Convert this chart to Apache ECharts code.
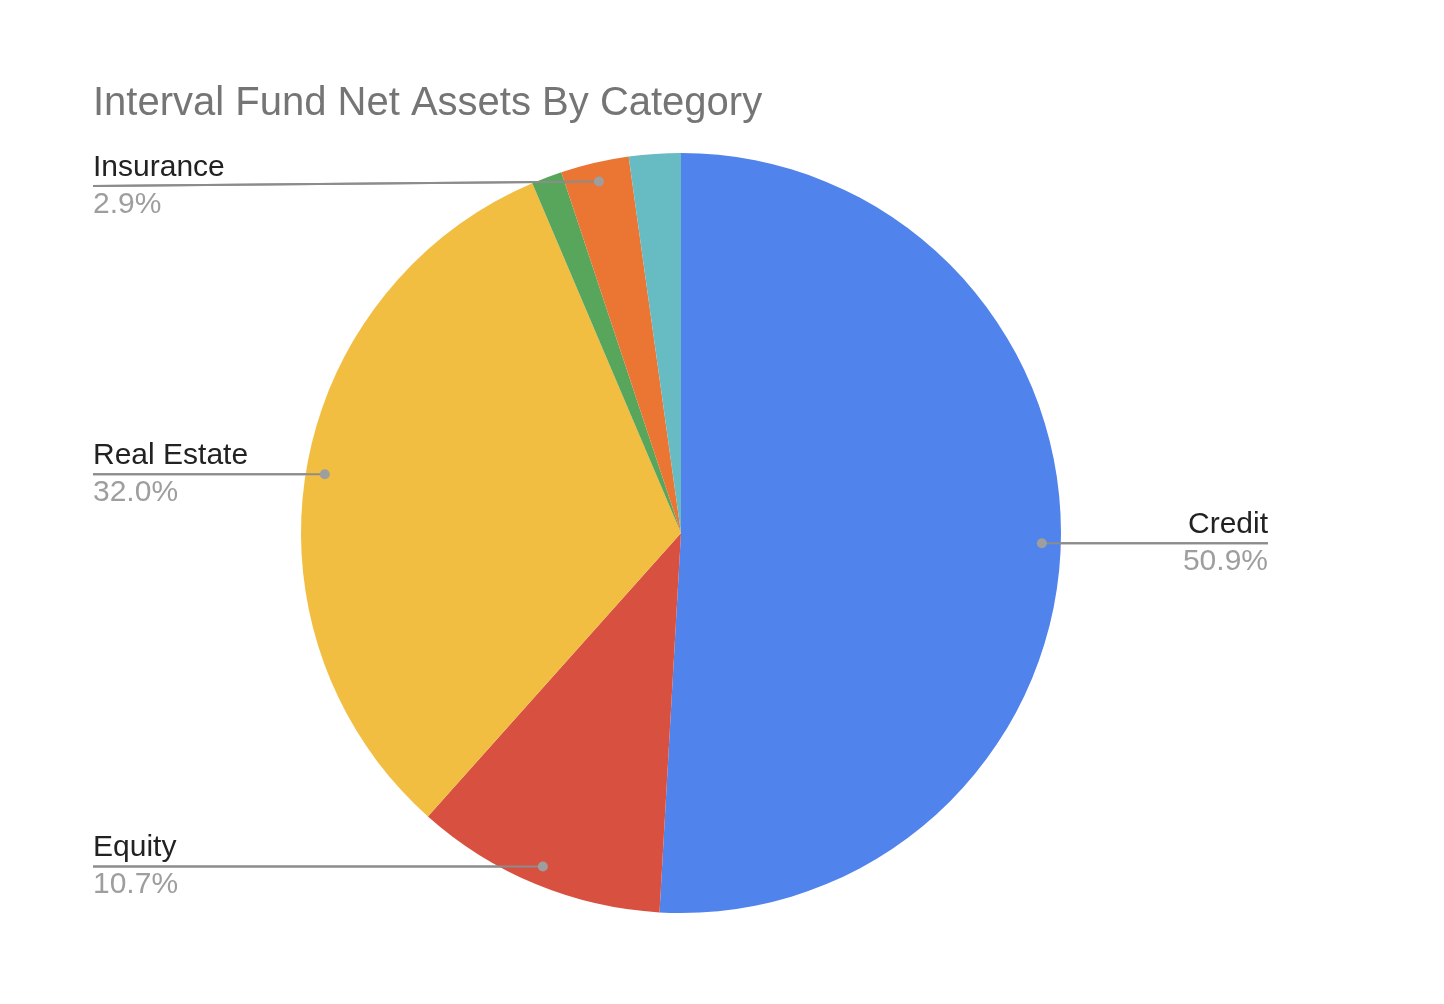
<!DOCTYPE html>
<html>
<head>
<meta charset="utf-8">
<script src="https://cdn.jsdelivr.net/npm/echarts@6/dist/echarts.min.js"></script>
<style>html,body{margin:0;padding:0;background:#fff;}#c{width:1444px;height:1004px;}</style>
</head>
<body>
<div id="c"></div>
<script>
var categories = ['Credit', 'Equity', 'Real Estate', 'Other', 'Insurance', 'Multi-Asset'];
var values = [50.9, 10.7, 32.0, 1.3, 2.9, 2.2];
var colors = ['#5183EC', '#D85140', '#F1BE42', '#58A55C', '#EB7533', '#67BCC4'];
var labelled = [true, true, true, false, true, false];

var CX = 681, CY = 533, R = 380, DOT = 0.95;
var LEFT_EDGE = 93, RIGHT_EDGE = 1268, LABEL_TOP = 186;
var LINE_COLOR = '#8C8C8C';
var FONT = '"Liberation Sans", Arial, sans-serif';

var total = values.reduce(function (a, b) { return a + b; }, 0);
var dots = [];
var cum = 0;
values.forEach(function (v, i) {
  if (labelled[i]) dots.push([DOT, cum + v / 2]);
  cum += v;
});

var chart = echarts.init(document.getElementById('c'), null, { renderer: 'canvas' });
chart.setOption({
  backgroundColor: '#ffffff',
  animation: false,
  title: {
    text: 'Interval Fund Net Assets By Category',
    left: 93, top: 84, padding: 0,
    textStyle: { fontFamily: FONT, fontSize: 40, fontWeight: 'normal', color: '#757575' }
  },
  polar: { center: [CX, CY], radius: R },
  angleAxis: { type: 'value', min: 0, max: total, startAngle: 90, clockwise: true, show: false },
  radiusAxis: { type: 'value', min: 0, max: 1, show: false },
  series: [{
    type: 'pie',
    center: [CX, CY],
    radius: R,
    startAngle: 90,
    clockwise: true,
    avoidLabelOverlap: false,
    itemStyle: { borderWidth: 0 },
    data: categories.map(function (n, i) {
      return { name: n, value: values[i], itemStyle: { color: colors[i] },
               label: { show: labelled[i] }, labelLine: { show: labelled[i] } };
    }),
    label: {
      position: 'outside',
      formatter: function (p) { return '{n|' + p.name + '}\n{p|' + p.value.toFixed(1) + '%}'; },
      rich: {
        n: { fontFamily: FONT, fontSize: 30, color: '#222222', lineHeight: 37 },
        p: { fontFamily: FONT, fontSize: 30, color: '#9E9E9E', lineHeight: 37 }
      }
    },
    labelLine: { show: true, showAbove: true, length: 20, length2: 20, smooth: false,
                 lineStyle: { color: LINE_COLOR, width: 2 } },
    labelLayout: function (params) {
      var pts = params.labelLinePoints;
      if (!pts) return {};
      var dx = pts[0][0] - CX, dy = pts[0][1] - CY;
      var len = Math.sqrt(dx * dx + dy * dy);
      var ix = CX + dx / len * R * DOT, iy = CY + dy / len * R * DOT;
      var left = dx < 0;
      var ex = left ? LEFT_EDGE : RIGHT_EDGE;
      var ly = Math.max(iy, LABEL_TOP);
      return {
        x: ex, y: ly,
        align: left ? 'left' : 'right',
        verticalAlign: 'middle',
        labelLinePoints: [[ix, iy], [ex, ly]]
      };
    },
    emphasis: { disabled: true },
    z: 2
  }, {
    type: 'custom',
    coordinateSystem: 'polar',
    data: dots,
    silent: true,
    z: 5,
    renderItem: function (params, api) {
      var p = api.coord([api.value(0), api.value(1)]);
      var left = p[0] < CX;
      var ex = left ? LEFT_EDGE : RIGHT_EDGE;
      var ly = Math.max(p[1], LABEL_TOP);
      return {
        type: 'group',
        children: [{
          type: 'line',
          shape: { x1: p[0], y1: p[1], x2: ex, y2: ly },
          style: { stroke: LINE_COLOR, lineWidth: 2 }
        }, {
          type: 'circle',
          shape: { cx: p[0], cy: p[1], r: 5 },
          style: { fill: '#9E9E9E' }
        }]
      };
    }
  }]
});
</script>
</body>
</html>
